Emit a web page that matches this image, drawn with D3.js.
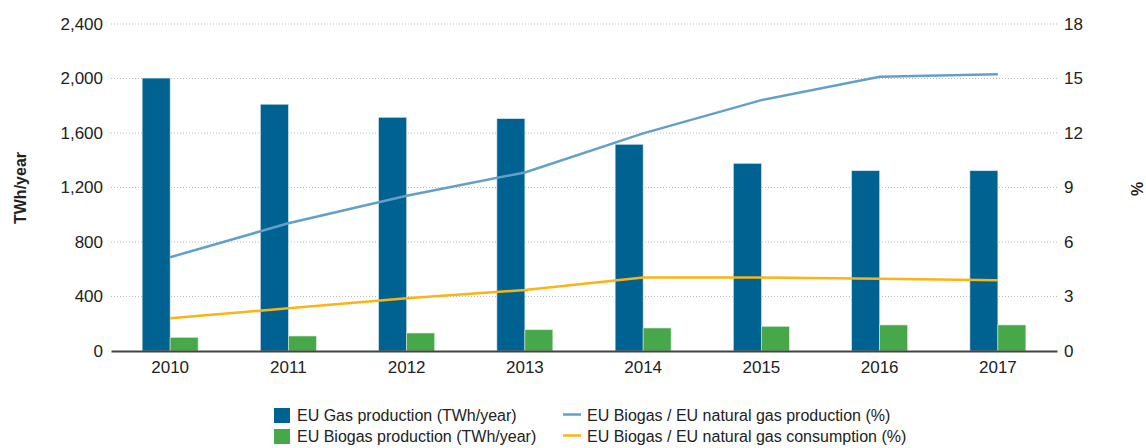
<!DOCTYPE html>
<html>
<head>
<meta charset="utf-8">
<script src="https://cdn.jsdelivr.net/npm/d3@7"></script>
<style>
  body { margin: 0; background: #fff; }
  text { font-family: "Liberation Sans", Arial, sans-serif; fill: #222; }
</style>
</head>
<body>
<div id="chart"></div>
<script>
// Data
const years = ["2010", "2011", "2012", "2013", "2014", "2015", "2016", "2017"];
const gasProduction = [2003, 1811, 1715, 1705, 1517, 1377, 1323, 1323];
const biogasProduction = [100, 110, 132, 156, 169, 181, 191, 191];
const shareOfProduction = [5.16, 7.03, 8.55, 9.83, 11.98, 13.81, 15.1, 15.24];
const shareOfConsumption = [1.8, 2.35, 2.9, 3.36, 4.05, 4.05, 3.98, 3.89];
const leftTicks = [0, 400, 800, 1200, 1600, 2000, 2400];
const rightTicks = [0, 3, 6, 9, 12, 15, 18];

const W = 1146, H = 448;
const margin = { top: 24, right: 89, bottom: 97, left: 111 };
const width = W - margin.left - margin.right;
const height = H - margin.top - margin.bottom;

const svg = d3.select("#chart")
  .append("svg")
  .attr("width", W)
  .attr("height", H);

const g = svg.append("g")
  .attr("transform", "translate(" + margin.left + "," + margin.top + ")");

// Scales: group of two bars centred on each year, junction at the year label
const x = d3.scaleBand().domain(years).range([0, width])
  .paddingInner(0.527).paddingOuter(0.2635);
const sub = d3.scaleBand().domain(["gas", "bio"]).range([0, x.bandwidth()]);
const yL = d3.scaleLinear().domain([0, 2400]).range([height, 0]);
const yR = d3.scaleLinear().domain([0, 18]).range([height, 0]);

// Gridlines (dotted)
g.append("g")
  .selectAll("line")
  .data(leftTicks.slice(1))
  .enter()
  .append("line")
  .attr("x1", 0)
  .attr("x2", width)
  .attr("y1", (d) => yL(d))
  .attr("y2", (d) => yL(d))
  .attr("stroke", "#bbb")
  .attr("stroke-width", 1)
  .attr("stroke-dasharray", "1,2");

// Left axis
const leftAxis = g.append("g")
  .call(d3.axisLeft(yL).tickValues(leftTicks).tickFormat(d3.format(",")).tickSize(0).tickPadding(8));
leftAxis.select(".domain").remove();
leftAxis.selectAll("text").style("font-size", "17px").attr("fill", "#222");

// Right axis
const rightAxis = g.append("g")
  .attr("transform", "translate(" + width + ",0)")
  .call(d3.axisRight(yR).tickValues(rightTicks).tickSize(0).tickPadding(7));
rightAxis.select(".domain").remove();
rightAxis.selectAll("text").style("font-size", "17px").attr("fill", "#222");

// Bars
const groups = g.selectAll(".year")
  .data(years)
  .enter()
  .append("g")
  .attr("class", "year")
  .attr("transform", (d) => "translate(" + x(d) + ",0)");

groups.append("rect")
  .attr("x", sub("gas"))
  .attr("width", sub.bandwidth())
  .attr("y", (d, i) => yL(gasProduction[i]))
  .attr("height", (d, i) => height - yL(gasProduction[i]))
  .attr("fill", "#006290")
  .attr("stroke", "#cfe0ea")
  .attr("stroke-width", 0.6);

groups.append("rect")
  .attr("x", sub("bio"))
  .attr("width", sub.bandwidth())
  .attr("y", (d, i) => yL(biogasProduction[i]))
  .attr("height", (d, i) => height - yL(biogasProduction[i]))
  .attr("fill", "#47a84a")
  .attr("stroke", "#d6ecd6")
  .attr("stroke-width", 0.6);

// Lines
const cx = (d) => x(d) + x.bandwidth() / 2;

const lineShare = d3.line()
  .x((d, i) => cx(years[i]))
  .y((d) => yR(d));

g.append("path")
  .datum(shareOfProduction)
  .attr("d", lineShare)
  .attr("fill", "none")
  .attr("stroke", "#62a0c9")
  .attr("stroke-width", 2.5);

g.append("path")
  .datum(shareOfConsumption)
  .attr("d", lineShare)
  .attr("fill", "none")
  .attr("stroke", "#fbb414")
  .attr("stroke-width", 2.5);

// Bottom axis
const bottomAxis = g.append("g")
  .attr("transform", "translate(0," + height + ")")
  .call(d3.axisBottom(x).tickSize(0).tickPadding(10));
bottomAxis.select(".domain").attr("stroke", "#444").attr("stroke-width", 2);
bottomAxis.selectAll("text").style("font-size", "17px").attr("fill", "#222");

// Axis titles
svg.append("text")
  .attr("transform", "translate(26,188) rotate(-90)")
  .attr("text-anchor", "middle")
  .style("font-size", "16px")
  .style("font-weight", "bold")
  .text("TWh/year");

svg.append("text")
  .attr("transform", "translate(1143,189) rotate(-90)")
  .attr("text-anchor", "middle")
  .style("font-size", "16px")
  .style("font-weight", "bold")
  .text("%");

// Legend
const legendBars = [
  { label: "EU Gas production (TWh/year)", color: "#006290" },
  { label: "EU Biogas production (TWh/year)", color: "#47a84a" }
];
const legendLines = [
  { label: "EU Biogas / EU natural gas production (%)", color: "#62a0c9" },
  { label: "EU Biogas / EU natural gas consumption (%)", color: "#fbb414" }
];

const lb = svg.selectAll(".lb")
  .data(legendBars)
  .enter()
  .append("g")
  .attr("transform", (d, i) => "translate(274," + (408 + i * 21) + ")");
lb.append("rect").attr("width", 16).attr("height", 15).attr("fill", (d) => d.color);
lb.append("text").attr("x", 23).attr("y", 13).style("font-size", "16px").text((d) => d.label);

const ll = svg.selectAll(".ll")
  .data(legendLines)
  .enter()
  .append("g")
  .attr("transform", (d, i) => "translate(563," + (408 + i * 21) + ")");
ll.append("line").attr("x1", 0).attr("x2", 18).attr("y1", 6.5).attr("y2", 6.5)
  .attr("stroke", (d) => d.color).attr("stroke-width", 2.5);
ll.append("text").attr("x", 24).attr("y", 13).style("font-size", "16px").text((d) => d.label);
</script>
</body>
</html>
